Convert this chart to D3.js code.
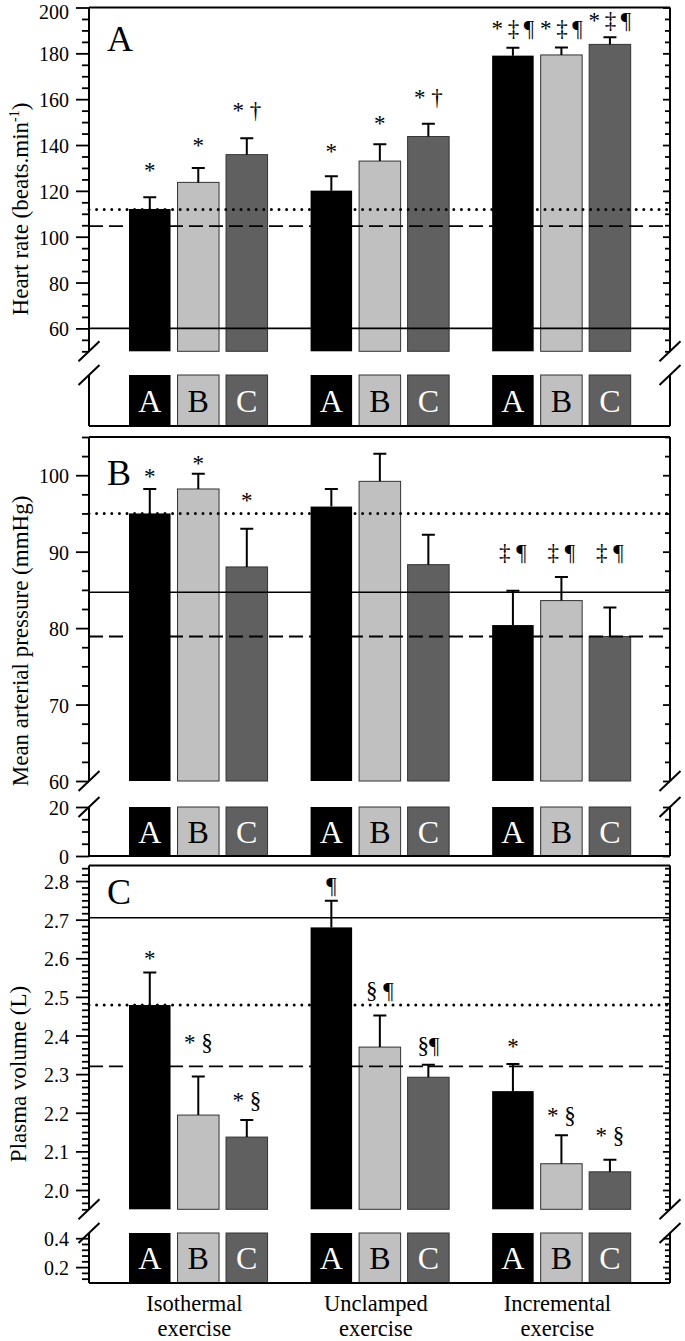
<!DOCTYPE html>
<html>
<head>
<title>Heart rate, MAP and plasma volume</title>
<style>
  body { margin: 0; background: #fff; }
</style>
</head>
<body>
<div id="chart"></div>
<script src="https://d3js.org/d3.v7.min.js"></script>
<script>
// exercise protocols (groups) and conditions inside each group
var groupLine1 = ["Isothermal", "Unclamped", "Incremental"];
var groupLine2 = ["exercise", "exercise", "exercise"];
var conditions = ["A", "B", "C"];

// panel A - heart rate (beats.min-1), order: iso A,B,C / uncl A,B,C / incr A,B,C
var hrMean = [112.1, 123.7, 135.8, 120.1, 133.0, 143.7, 179.0, 179.3, 183.9];
var hrSd   = [5.1, 6.3, 7.2, 6.3, 7.3, 5.6, 3.4, 3.3, 3.1];
var hrMarks  = ["*", "*", "* \u2020", "*", "*", "* \u2020",
                "*\u2009\u2021\u2009\u00b6", "*\u2009\u2021\u2009\u00b6", "*\u2009\u2021\u2009\u00b6"];
var hrMarkAt = [130.7, 141.6, 155.3, 138.7, 151.3, 161.1, 190.9, 190.9, 194.5];
var hrRefDotted = 111.9, hrRefDashed = 104.6, hrRefSolid = 60;
var hrTicks = [60, 80, 100, 120, 140, 160, 180, 200];

// panel B - mean arterial pressure (mmHg)
var mapMean = [95.0, 98.2, 88.0, 95.9, 99.2, 88.3, 80.4, 83.6, 78.9];
var mapSd   = [3.2, 2.0, 5.0, 2.3, 3.6, 3.9, 4.5, 3.1, 3.8];
var mapMarks  = ["*", "*", "*", "", "", "", "\u2021 \u00b6", "\u2021 \u00b6", "\u2021 \u00b6"];
var mapMarkAt = [100.3, 102.1, 97.2, 0, 0, 0, 90.0, 90.0, 90.0];
var mapRefDotted = 95.0, mapRefDashed = 78.9, mapRefSolid = 84.7;
var mapTicks = [60, 70, 80, 90, 100];
var mapLowTicks = [0, 20];

// panel C - plasma volume (L)
var pvMean = [2.479, 2.194, 2.137, 2.680, 2.370, 2.292, 2.256, 2.068, 2.047];
var pvSd   = [0.084, 0.100, 0.044, 0.069, 0.082, 0.032, 0.070, 0.074, 0.031];
var pvMarks  = ["*", "* \u00a7", "* \u00a7", "\u00b6", "\u00a7 \u00b6", "\u00a7\u00b6", "*", "* \u00a7", "* \u00a7"];
var pvMarkAt = [2.609, 2.384, 2.233, 2.790, 2.518, 2.376, 2.382, 2.194, 2.142];
var pvRefDotted = 2.479, pvRefDashed = 2.320, pvRefSolid = 2.705;
var pvTicks = [2.0, 2.1, 2.2, 2.3, 2.4, 2.5, 2.6, 2.7, 2.8];
var pvLowTicks = [0.2, 0.4];


var W = 685, H = 1341;
var FONT = "'Liberation Serif', 'Times New Roman', Times, serif";

var svg = d3.select("#chart").append("svg")
    .attr("width", W)
    .attr("height", H)
    .style("font-family", FONT);

var xLeft = 89, xRight = 670;

var x0 = d3.scaleBand().domain(groupLine1).range([107.5, 652.2])
    .paddingInner(0.237).paddingOuter(0.1185);
var x1 = d3.scaleBand().domain(conditions).range([0, x0.bandwidth()])
    .paddingInner(0.144);

var fill = {A: "#000000", B: "#c0c0c0", C: "#606060"};
var letterFill = {A: "#ffffff", B: "#000000", C: "#ffffff"};

function near(v, list) {
  return list.some(function(t) { return Math.abs(t - v) < 1e-6; });
}

var panels = [
  {
    letter: "A", letterY: 51, titleY: 209,
    mean: hrMean, sd: hrSd, marks: hrMarks, markAt: hrMarkAt,
    refs: [[hrRefSolid, "solid"], [hrRefDashed, "dashed"], [hrRefDotted, "dotted"]],
    top: 7.5, upBottom: 351.3, loTop: 375, bottom: 426,
    upDomain: [50, 200], loDomain: null,
    major: hrTicks,
    minor: d3.range(50, 201, 5).filter(function(v) { return !near(v, hrTicks); }),
    loMajor: [], loMinor: [],
    fmt: d3.format("d")
  },
  {
    letter: "B", letterY: 485, titleY: 641,
    mean: mapMean, sd: mapSd, marks: mapMarks, markAt: mapMarkAt,
    refs: [[mapRefSolid, "solid"], [mapRefDashed, "dashed"], [mapRefDotted, "dotted"]],
    top: 437, upBottom: 781, loTop: 807, bottom: 856,
    upDomain: [60, 105], loDomain: [0, 20],
    major: mapTicks,
    minor: d3.range(60, 105.01, 2.5).filter(function(v) { return !near(v, mapTicks); }),
    loMajor: mapLowTicks, loMinor: [5, 10, 15],
    fmt: d3.format("d")
  },
  {
    letter: "C", letterY: 904, titleY: 1074,
    mean: pvMean, sd: pvSd, marks: pvMarks, markAt: pvMarkAt,
    refs: [[pvRefSolid, "solid"], [pvRefDashed, "dashed"], [pvRefDotted, "dotted"]],
    top: 865.6, upBottom: 1209.3, loTop: 1233, bottom: 1283,
    upDomain: [1.95, 2.84], loDomain: [0.09, 0.436],
    major: pvTicks,
    minor: d3.range(0, 54).map(function(i) { return 1.95 + i / 60; })
            .filter(function(v) { return !near(v, pvTicks); }),
    loMajor: pvLowTicks, loMinor: [0.12, 0.16, 0.24, 0.28, 0.32, 0.36],
    fmt: d3.format(".1f")
  }
];

function tickAxis(g, scale, x, values, size, fmt) {
  var ax = d3.axisLeft(scale).tickValues(values).tickSize(size).tickPadding(7)
      .tickFormat(fmt || "");
  var a = g.append("g").attr("transform", "translate(" + x + ",0)").call(ax);
  a.attr("font-family", null).style("font-family", FONT);
  a.select(".domain").remove();
  a.selectAll("line").attr("stroke", "#000").attr("stroke-width", 1.8);
  a.selectAll("text")
    .attr("dy", "0.38em")
    // keep the top label inside the page
    .attr("y", function(d) { var py = scale(d); return py < 11 ? 11 - py : 0; })
    .attr("fill", "#000")
    .style("font-family", FONT)
    .style("font-size", "20px");
}

function drawPanel(p) {
  var g = svg.append("g");
  var yU = d3.scaleLinear().domain(p.upDomain).range([p.upBottom, p.top]);
  var yL = p.loDomain ? d3.scaleLinear().domain(p.loDomain).range([p.bottom, p.loTop]) : null;
  var bw = x1.bandwidth();

  var rows = p.mean.map(function(m, i) {
    return {g: groupLine1[Math.floor(i / 3)], c: conditions[i % 3], m: m,
            sd: p.sd[i], mark: p.marks[i], at: p.markAt[i]};
  });
  function bx(d) { return x0(d.g) + x1(d.c); }

  // bars, upper part
  g.selectAll(".barU").data(rows).join("rect")
    .attr("x", bx)
    .attr("y", function(d) { return yU(d.m); })
    .attr("width", bw)
    .attr("height", function(d) { return p.upBottom - yU(d.m); })
    .attr("fill", function(d) { return fill[d.c]; })
    .attr("stroke", function(d) { return d.c === "A" ? "none" : "#333"; })
    .attr("stroke-width", 1);

  // bars, part below the break, with the condition letter
  g.selectAll(".barL").data(rows).join("rect")
    .attr("x", bx)
    .attr("y", p.loTop)
    .attr("width", bw)
    .attr("height", p.bottom - p.loTop)
    .attr("fill", function(d) { return fill[d.c]; })
    .attr("stroke", function(d) { return d.c === "A" ? "none" : "#333"; })
    .attr("stroke-width", 1);

  g.selectAll(".cond").data(rows).join("text")
    .attr("x", function(d) { return bx(d) + bw / 2; })
    .attr("y", (p.loTop + p.bottom) / 2)
    .attr("dy", "0.35em")
    .attr("text-anchor", "middle")
    .style("font-family", FONT)
    .style("font-size", "32px")
    .attr("fill", function(d) { return letterFill[d.c]; })
    .text(function(d) { return d.c; });

  // error bars (upper only)
  g.selectAll(".err").data(rows).join("path")
    .attr("d", function(d) {
      var cx = bx(d) + bw / 2, y1 = yU(d.m), y2 = yU(d.m + d.sd);
      return "M" + cx + "," + y1 + "V" + y2 + "M" + (cx - 6.5) + "," + y2 + "H" + (cx + 6.5);
    })
    .attr("stroke", "#000")
    .attr("stroke-width", 2)
    .attr("fill", "none");

  // reference lines
  p.refs.forEach(function(r) {
    var l = g.append("line")
      .attr("x1", xLeft).attr("x2", xRight)
      .attr("y1", yU(r[0])).attr("y2", yU(r[0]))
      .attr("stroke", "#000");
    if (r[1] === "solid") l.attr("stroke-width", 1.6);
    if (r[1] === "dashed") l.attr("stroke-width", 1.8).attr("stroke-dasharray", "14,6");
    if (r[1] === "dotted") l.attr("stroke-width", 3).attr("stroke-linecap", "round")
                             .attr("stroke-dasharray", "0,7.6");
  });

  // frame
  var frame = "M" + xLeft + "," + p.top + "H" + xRight +
              "M" + xLeft + "," + p.bottom + "H" + xRight +
              "M" + xLeft + "," + p.top + "V" + p.upBottom +
              "M" + xLeft + "," + p.loTop + "V" + p.bottom +
              "M" + xRight + "," + p.top + "V" + p.upBottom +
              "M" + xRight + "," + p.loTop + "V" + p.bottom;
  g.append("path").attr("d", frame).attr("stroke", "#000")
    .attr("stroke-width", 2).attr("fill", "none");

  // ticks: outside on the left, inside on the right
  tickAxis(g, yU, xLeft, p.major, 13, p.fmt);
  tickAxis(g, yU, xLeft, p.minor, 7);
  tickAxis(g, yU, xRight, p.major, 7);
  tickAxis(g, yU, xRight, p.minor, 5);
  if (yL) {
    tickAxis(g, yL, xLeft, p.loMajor, 13, p.fmt);
    tickAxis(g, yL, xLeft, p.loMinor, 7);
    tickAxis(g, yL, xRight, p.loMajor, 7);
    tickAxis(g, yL, xRight, p.loMinor, 5);
  }

  // axis break marks
  [xLeft, xRight].forEach(function(x) {
    [p.upBottom, p.loTop].forEach(function(y) {
      g.append("line")
        .attr("x1", x - 10.5).attr("y1", y + 10)
        .attr("x2", x + 10.5).attr("y2", y - 10)
        .attr("stroke", "#000").attr("stroke-width", 2);
    });
  });

  // significance symbols
  g.selectAll(".mark").data(rows.filter(function(d) { return d.mark; })).join("text")
    .attr("x", function(d) { return bx(d) + bw / 2; })
    .attr("y", function(d) { return yU(d.at); })
    .attr("dy", function(d) { return d.mark === "*" ? "0.5em" : "0.35em"; })
    .attr("text-anchor", "middle")
    .style("font-family", FONT)
    .style("font-size", "23px")
    .text(function(d) { return d.mark; });

  // panel letter
  g.append("text").attr("x", 107).attr("y", p.letterY)
    .style("font-family", FONT)
    .style("font-size", "36px")
    .text(p.letter);
}

panels.forEach(drawPanel);

// y axis titles
var t1 = svg.append("text")
  .attr("transform", "translate(28," + panels[0].titleY + ") rotate(-90)")
  .attr("text-anchor", "middle")
  .style("font-family", FONT).style("font-size", "23px");
t1.append("tspan").text("Heart rate (beats.min");
t1.append("tspan").style("font-size", "14px").attr("dy", -9).text("-1");
t1.append("tspan").attr("dy", 9).text(")");

svg.append("text")
  .attr("transform", "translate(28," + panels[1].titleY + ") rotate(-90)")
  .attr("text-anchor", "middle")
  .style("font-family", FONT).style("font-size", "23px")
  .text("Mean arterial pressure (mmHg)");

svg.append("text")
  .attr("transform", "translate(26," + panels[2].titleY + ") rotate(-90)")
  .attr("text-anchor", "middle")
  .style("font-family", FONT).style("font-size", "23px")
  .text("Plasma volume (L)");

// x category labels
var xl = svg.selectAll(".xlab").data(groupLine1).join("text")
  .attr("x", function(d) { return x0(d) + x0.bandwidth() / 2 - 4; })
  .attr("y", 1311)
  .attr("text-anchor", "middle")
  .style("font-family", FONT)
  .style("font-size", "22.5px");
xl.append("tspan").text(function(d) { return d; });
xl.append("tspan")
  .attr("x", function(d) { return x0(d) + x0.bandwidth() / 2 - 4; })
  .attr("dy", 25)
  .text(function(d, i) { return groupLine2[i]; });
</script>
</body>
</html>
